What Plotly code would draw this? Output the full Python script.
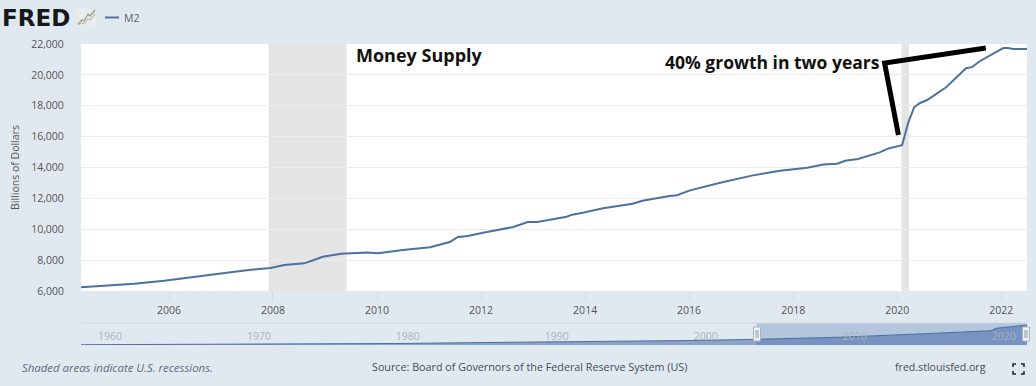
import plotly.graph_objects as go

W, H = 1036, 386
L, R, T, B = 81, 1027, 44, 345
MAIN_BOTTOM, NAV_TOP = 291, 323

m2_dates = ["2004-04-23","2004-07-23","2004-11-16","2005-05-01","2005-11-28","2006-09-05","2007-03-10","2007-07-30","2007-12-16",
"2008-03-20","2008-08-07","2008-10-15","2008-12-16","2009-04-23","2009-09-08","2009-10-26","2010-01-08","2010-07-01",
"2011-01-08","2011-05-26","2011-07-23","2011-10-01","2012-01-15","2012-08-15","2012-11-24","2013-01-30","2013-08-24","2013-10-01","2013-12-16",
"2014-05-08","2014-12-01","2015-02-07","2015-08-17","2015-10-08","2016-01-08","2016-08-07","2017-03-25","2017-10-01",
"2018-04-10","2018-08-01","2018-11-06","2019-01-01","2019-04-01","2019-09-01","2019-11-01","2020-01-22","2020-02-05",
"2020-03-18","2020-04-29","2020-06-10","2020-07-30","2020-12-10","2021-04-29","2021-06-10","2021-08-06","2022-01-15","2022-02-18","2022-03-25","2022-07-01"]
m2_values = [6240,6300,6410,6475,6670,6970,7210,7380,7490,
7680,7790,8010,8220,8420,8460,8500,8440,8655,
8830,9175,9500,9560,9780,10145,10470,10470,10815,10945,11070,
11355,11650,11850,12155,12200,12520,13015,13490,13795,
13990,14200,14250,14440,14550,14980,15235,15420,15450,
16880,17900,18180,18370,19200,20430,20500,20900,21740,21740,21670,21680]

nav_dates = ["1959-01-01","1965-01-01","1970-01-01","1975-01-01","1980-01-01","1985-01-01","1990-01-01","1995-01-01","2000-01-01",
"2005-01-01","2010-01-01","2015-01-01","2020-02-01","2020-06-01","2021-01-01","2022-07-01"]
nav_values = [290,460,630,1020,1600,2500,3280,3640,4900,6400,8500,11800,15500,18150,19300,21650]

recessions = [("2007-12-01","2009-06-01"),("2020-02-01","2020-03-25")]
note_dates = ["2020-01-10","2019-10-05","2021-09-15"]
note_values = [16100,20770,21740]
main_ticks = ["2006-01-01","2008-01-01","2010-01-01","2012-01-01","2014-01-01","2016-01-01","2018-01-01","2020-01-01","2022-01-01"]
main_labels = ["2006","2008","2010","2012","2014","2016","2018","2020","2022"]
y_ticks = [6000,8000,10000,12000,14000,16000,18000,20000,22000]
nav_ticks = ["1960-01-01","1970-01-01","1980-01-01","1990-01-01","2000-01-01","2010-01-01","2020-01-01"]
nav_labels = ["1960","1970","1980","1990","2000","2010","2020"]

PAGE = "#e1e9f0"
LINE = "#4a739f"
FONT = "Open Sans"
px = lambda x: (x - L) / (R - L)
py = lambda y: (B - y) / (B - T)

fig = go.Figure()
fig.add_trace(go.Scatter(x=m2_dates, y=m2_values, mode="lines", name="M2", showlegend=False,
                         line=dict(color=LINE, width=2), xaxis="x", yaxis="y", hoverinfo="skip"))
fig.add_trace(go.Scatter(x=note_dates, y=note_values, mode="lines", showlegend=False,
                         line=dict(color="black", width=5), xaxis="x", yaxis="y", hoverinfo="skip"))
fig.add_trace(go.Scatter(x=nav_dates, y=nav_values, mode="lines", showlegend=False, fill="tozeroy",
                         fillcolor="rgba(69,105,170,0.55)", line=dict(color="#4d6f9c", width=1),
                         xaxis="x2", yaxis="y2", hoverinfo="skip"))

shapes = []
for a, b in recessions:
    shapes.append(dict(type="rect", xref="x", yref="y domain", x0=a, x1=b, y0=0, y1=1,
                       fillcolor="#e4e4e4", line_width=0, layer="below"))
# navigator: background, frame, selection mask, handles
shapes.append(dict(type="rect", xref="x2 domain", yref="y2 domain", x0=0, x1=1, y0=0, y1=1,
                   fillcolor=PAGE, line_width=0, layer="below"))
shapes.append(dict(type="line", xref="paper", yref="paper", x0=0, x1=1, y0=py(NAV_TOP), y1=py(NAV_TOP),
                   line=dict(color="#cdd6e0", width=1)))
shapes.append(dict(type="rect", xref="x2", yref="y2 domain", x0="2004-05-01", x1="2022-07-01", y0=0, y1=1,
                   fillcolor="#b4c5de", line_width=0, layer="below"))
for hx in (757, 1026):
    shapes.append(dict(type="rect", xref="paper", yref="paper", x0=px(hx-3.5), x1=px(hx+3.5), y0=py(341), y1=py(327),
                       fillcolor="#f2f2f2", line=dict(color="#a8b4c4", width=1)))
    for d in (-1, 1):
        shapes.append(dict(type="line", xref="paper", yref="paper", x0=px(hx+d), x1=px(hx+d), y0=py(338), y1=py(330),
                           line=dict(color="#8b97a8", width=1)))
# legend sample
shapes.append(dict(type="line", xref="paper", yref="paper", x0=px(105), x1=px(119), y0=py(17.5), y1=py(17.5),
                   line=dict(color=LINE, width=2)))
# small logo graph
shapes.append(dict(type="rect", xref="paper", yref="paper", x0=px(77), x1=px(96), y0=py(26), y1=py(9),
                   fillcolor="#e9ecea", line_width=0))
for c, ys in (("#8fa08a", [24, 20, 21, 14, 16, 10]), ("#b6bfae", [25, 23, 24, 19, 20, 14])):
    xs = [78, 82, 84, 88, 90, 95]
    path = "M" + " L".join(f"{px(x)},{py(y)}" for x, y in zip(xs, ys))
    shapes.append(dict(type="path", xref="paper", yref="paper", path=path, line=dict(color=c, width=1.2)))
# fullscreen icon
for cx, cy, dx, dy in ((1013,364,1,1),(1024,364,-1,1),(1013,374,1,-1),(1024,374,-1,-1)):
    path = f"M{px(cx+3*dx)},{py(cy)} L{px(cx)},{py(cy)} L{px(cx)},{py(cy+3*dy)}"
    shapes.append(dict(type="path", xref="paper", yref="paper", path=path, line=dict(color="#222", width=1.5)))

def note(text, x, y, size, color, anchor="left", **kw):
    return dict(text=text, xref="paper", yref="paper", x=px(x), y=py(y), xanchor=anchor, yanchor="middle",
                showarrow=False, font=dict(family=kw.pop("family", FONT), size=size, color=color), **kw)

annotations = [
    note("<b>FRED</b>", 0, 17.5, 23, "#17181c", family="DejaVu Sans"),
    note("M2", 122, 18.5, 10.5, "#555f6b"),
    note("<b>Money Supply</b>", 354, 55, 18, "#111"),
    note("<b>40% growth in two years</b>", 663, 61.5, 17.5, "#111"),
    note("<i>Shaded areas indicate U.S. recessions.</i>", 20, 367, 11.4, "#5b6b80"),
    note("Source: Board of Governors of the Federal Reserve System (US)", 370, 367, 10.75, "#444c57"),
    note("fred.stlouisfed.org", 893, 367, 10.6, "#444c57"),
]

fig.update_layout(
    width=W, height=H, paper_bgcolor=PAGE, plot_bgcolor="white",
    margin=dict(l=L, r=W-R, t=T, b=H-B, autoexpand=False),
    font=dict(family=FONT, size=10.5, color="#666"),
    shapes=shapes, annotations=annotations, showlegend=False,
    xaxis=dict(domain=[0, 1], anchor="y", type="date", range=["2004-04-23", "2022-07-01"],
               tickvals=main_ticks, ticktext=main_labels, ticks="outside", ticklen=9, tickcolor="#d3dce5",
               showgrid=False, zeroline=False, showline=False, tickfont=dict(size=10.5, color="#555")),
    yaxis=dict(domain=[py(MAIN_BOTTOM), 1], anchor="x", range=[6000, 22000], tickvals=y_ticks,
               tickformat=",d", ticks="outside", ticklen=14, tickcolor="rgba(0,0,0,0)",
               gridcolor="#ececec", gridwidth=1, zeroline=False, showline=False,
               title=dict(text="Billions of Dollars", font=dict(size=10.5, color="#555"), standoff=9),
               tickfont=dict(size=10.5, color="#555")),
    xaxis2=dict(domain=[0, 1], anchor="y2", type="date", range=["1959-01-01", "2022-07-01"],
                tickvals=nav_ticks, ticktext=nav_labels, ticks="", ticklabelposition="inside", ticklabelshift=14,
                showgrid=False, zeroline=False, showline=False, tickfont=dict(size=10.5, color="#aab2bc")),
    yaxis2=dict(domain=[0, py(NAV_TOP)], anchor="x2", range=[0, 23900], visible=False),
)
fig.write_html("out.html", config=dict(displayModeBar=False),
               post_script="document.body.style.margin='0';document.body.style.overflow='hidden';")
